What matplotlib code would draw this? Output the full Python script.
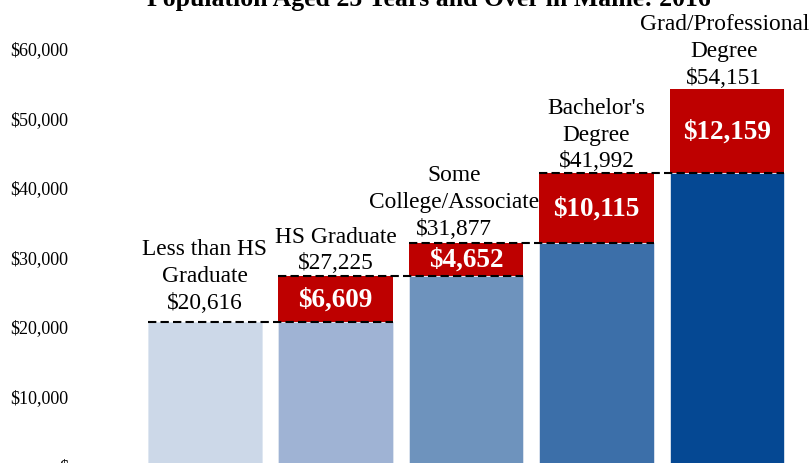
"""
Median earnings by educational attainment, Maine 2016 (stepped bar chart).
"""

import matplotlib
matplotlib.use('Agg')
import matplotlib.pyplot as plt
import numpy as np
from matplotlib.ticker import FuncFormatter

plt.rcParams.update({
    'font.family': ['Liberation Serif', 'DejaVu Serif'],
    'font.size': 12,
})

CATEGORIES = ['Less than HS\nGraduate', 'HS Graduate', 'Some\nCollege/Associate',
              "Bachelor's\nDegree", 'Grad/Professional\nDegree']
TOTALS = [20616, 27225, 31877, 41992, 54151]
INCREMENTS = [None, 6609, 4652, 10115, 12159]
BAR_COLORS = ['#ccd8e8', '#9fb3d4', '#6e93bd', '#3c6fa9', '#054893']
RED = '#be0000'
TITLE = 'Population Aged 25 Years and Over in Maine: 2016'
Y_TICKS = [0, 10000, 20000, 30000, 40000, 50000, 60000]


def money(v, pos=None):
    return '$' if v == 0 else f'${v:,.0f}'


def main():
    fig = plt.figure(figsize=(8.1, 4.64), dpi=100)
    W, H = 810, 464
    # axes placed in pixel terms: x=-0.6 -> 126.7px, x=4.6 -> 805.3px; y=0 -> 466px from top
    left, right = 126.7, 805.3
    y0_px, ymax = 466.0, 66000
    px_per = 69.5 / 10000
    top_px = y0_px - ymax * px_per
    ax = fig.add_axes([left / W, (H - y0_px) / H, (right - left) / W, (y0_px - top_px) / H])

    x = np.arange(len(CATEGORIES))
    width = 0.875
    base = [TOTALS[0]] + TOTALS[:-1]

    ax.bar(x, base, width, color=BAR_COLORS, edgecolor='#dfe7f1', linewidth=0.6, zorder=2)
    for i in range(1, len(TOTALS)):
        ax.bar(x[i], INCREMENTS[i], width, bottom=base[i], color=RED, zorder=2)
        ax.text(x[i], base[i] + INCREMENTS[i] / 2, money(INCREMENTS[i]),
                ha='center', va='center', color='white', fontsize=19.5,
                fontweight='bold', zorder=4)

    # dashed step lines from bar i to bar i+1
    for i in range(len(TOTALS) - 1):
        ax.plot([x[i] - width / 2, x[i + 1] + width / 2], [TOTALS[i], TOTALS[i]],
                color='black', linestyle=(0, (4, 2)), linewidth=1.5, zorder=3)

    # label offsets (points) - Excel nudges the labels a little differently per bar
    offsets = [(0, 6.5), (0, 1.8), (-8.5, 3.5), (0, 1.2), (-2, 0.8)]
    for i, (cat, tot) in enumerate(zip(CATEGORIES, TOTALS)):
        ax.annotate(f'{cat}\n{money(tot)}', (x[i], tot), xytext=offsets[i],
                    textcoords='offset points', ha='center', va='bottom',
                    fontsize=16.8, linespacing=1.36, zorder=4)

    ax.set_xlim(-0.6, 4.6)
    ax.set_ylim(0, ymax)
    ax.set_yticks(Y_TICKS)
    ax.yaxis.set_major_formatter(FuncFormatter(money))
    ax.tick_params(axis='y', length=0, pad=42, labelsize=13)
    ax.set_xticks([])
    for s in ax.spines.values():
        s.set_visible(False)

    fig.text(0.53, 1 - 6 / H, TITLE, ha='center', va='baseline',
             fontsize=18.5, fontweight='bold')

    fig.savefig('out.png', dpi=100, facecolor='white')
    plt.close(fig)


if __name__ == '__main__':
    main()
